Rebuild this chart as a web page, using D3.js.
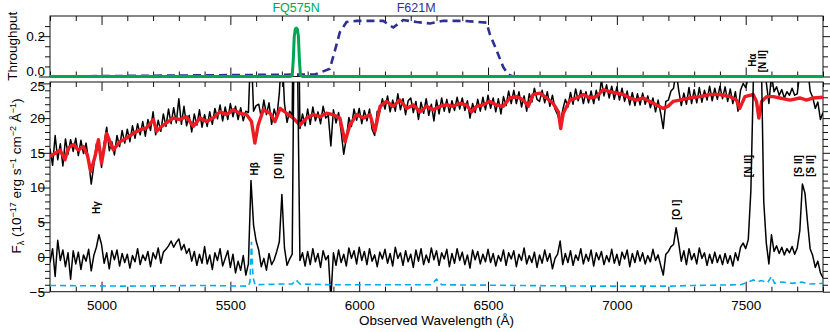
<!DOCTYPE html>
<html>
<head>
<meta charset="utf-8">
<script src="https://cdn.jsdelivr.net/npm/d3@7"></script>
<style>
body{margin:0;background:#fff;}
svg text{font-family:"Liberation Sans",Arial,Helvetica,sans-serif;}
</style>
</head>
<body>
<div id="chart"></div>
<script>
// spectra on a 10 A grid starting at 4800 A
const lamStart = 4800, lamStep = 10;

const observedFlux = [
  15.6, 13.2, 17.5, 14.0, 16.3, 13.1, 17.0, 14.8, 16.9, 15.2, // 4800
  17.1, 14.6, 16.8, 14.9, 16.4, 13.8, 10.5, 13.2, 16.3, 15.8, // 4900
  12.9, 16.4, 18.7, 15.3, 16.6, 14.7, 17.5, 15.9, 18.2, 16.4, // 5000
  18.4, 16.6, 18.9, 17.1, 19.2, 17.6, 19.5, 17.4, 19.8, 18.2, // 5100
  20.9, 17.6, 19.7, 18.1, 20.6, 18.8, 21.3, 19.2, 21.5, 19.3, // 5200
  22.8, 19.1, 21.7, 18.9, 20.4, 18.0, 20.6, 19.0, 21.2, 18.7, // 5300
  20.5, 18.8, 20.9, 19.1, 21.4, 19.9, 21.9, 19.6, 21.6, 19.8, // 5400
  22.1, 20.2, 21.7, 19.8, 21.5, 19.6, 21.0, 20.8, 31.0, 21.0, // 5500
  21.8, 22.0, 20.1, 22.6, 20.5, 22.2, 19.1, 21.3, 20.0, 23.6, // 5600
  30.0, 22.1, 19.4, 21.0, 20.4, 60.0, 50.0, 18.5, 20.6, 18.9, // 5700
  21.3, 19.1, 21.6, 19.6, 20.9, 19.2, 21.7, 20.0, 20.4, 16.0, // 5800
  21.2, 19.3, 20.8, 18.0, 14.8, 17.1, 20.1, 18.8, 21.3, 19.7, // 5900
  21.4, 19.2, 21.1, 19.6, 21.3, 18.4, 17.5, 21.0, 20.9, 22.8, // 6000
  21.3, 23.2, 20.9, 22.6, 21.0, 23.5, 21.2, 22.8, 20.5, 22.5, // 6100
  22.9, 20.8, 22.4, 19.8, 22.3, 20.7, 22.8, 20.4, 22.0, 19.6, // 6200
  22.6, 20.6, 22.9, 21.0, 22.7, 20.8, 22.5, 21.1, 23.0, 21.3, // 6300
  22.9, 21.1, 22.5, 20.0, 22.1, 20.8, 22.7, 21.0, 23.0, 21.2, // 6400
  23.3, 21.4, 22.9, 20.9, 22.8, 20.6, 23.1, 21.8, 23.9, 22.1, // 6500
  24.0, 22.1, 23.8, 21.6, 23.2, 21.0, 23.5, 22.3, 24.3, 22.7, // 6600
  22.4, 24.0, 22.2, 23.8, 21.7, 23.3, 21.3, 20.5, 19.2, 21.2, // 6700
  22.7, 21.6, 23.7, 22.0, 24.2, 22.5, 24.0, 22.1, 23.8, 22.2, // 6800
  23.9, 22.1, 24.0, 22.6, 25.5, 23.2, 24.8, 22.9, 24.6, 22.7, // 6900
  24.5, 22.6, 24.3, 22.4, 23.9, 21.9, 23.7, 21.8, 23.5, 21.9, // 7000
  23.6, 22.0, 23.2, 21.5, 22.9, 20.9, 22.6, 20.7, 18.5, 22.4, // 7100
  22.6, 23.9, 24.3, 26.8, 24.0, 21.8, 23.6, 22.0, 24.4, 22.1, // 7200
  24.1, 22.2, 24.4, 22.3, 24.0, 22.6, 24.6, 22.5, 24.3, 22.7, // 7300
  24.6, 22.8, 24.5, 22.4, 24.2, 22.1, 23.8, 21.0, 24.0, 25.0, // 7400
  24.4, 25.8, 33.0, 49.0, 62.0, 58.0, 52.0, 30.8, 25.1, 22.1, // 7500
  26.3, 23.8, 24.5, 23.3, 24.1, 22.9, 23.8, 23.3, 24.3, 23.3, // 7600
  23.5, 26.6, 33.0, 31.8, 27.6, 23.9, 23.0, 21.4, 22.3, 19.8, 20.8 // 7700
];

const residualFlux = [
  -0.8, 1.2, -2.8, 2.4, -0.5, 1.0, -1.4, 0.6, -3.2, 0.9,  // 4800
  -1.0, 0.7, -1.8, 0.3, -0.6, 1.1, -2.0, 0.2, 1.4, 3.2,   // 4900
  1.8, -0.9, 0.6, -1.7, 0.9, -0.4, 1.0, -1.3, 0.5, -0.8,  // 5000
  0.4, -1.6, 0.2, -0.7, 1.2, -1.1, 0.3, -0.5, 0.8, -1.4,  // 5100
  0.6, -0.3, 1.3, -0.9, 0.7, 1.1, 1.6, 2.3, 1.4, 2.1,     // 5200
  2.6, 1.0, 1.8, 0.5, 1.2, -0.6, 0.8, -1.2, 0.4, -0.9,    // 5300
  1.5, -1.0, 0.3, -1.8, 0.6, -0.5, 1.2, -1.3, -0.2, 0.9,  // 5400
  -1.5, 0.4, -2.3, -0.6, -1.9, 0.2, -2.6, -1.0, 11.0, 4.6, // 5500
  2.3, 1.0, -1.4, -0.2, -1.9, 0.5, -1.1, -0.4, 0.8, 2.2,  // 5600
  9.0, 1.3, -1.2, -0.3, 0.4, 45.0, 30.0, -0.5, 0.6, -1.3, // 5700
  0.8, -1.1, 1.2, -0.7, 0.5, -1.5, 0.9, -0.4, 0.2, -6.0,  // 5800
  0.6, -1.2, 1.0, -0.8, 0.4, -1.3, 1.3, -0.2, 0.9, -1.0,  // 5900
  1.4, -0.5, 0.8, -1.1, 1.2, -0.6, 0.3, -1.4, 0.7, -0.3,  // 6000
  1.1, -0.9, 0.5, -1.3, 1.4, -0.2, 0.6, -1.2, 0.9, -0.7,  // 6100
  0.4, -1.5, 1.0, -0.6, 1.2, -1.1, 0.3, -0.8, 1.3, -0.4,  // 6200
  0.9, -1.2, 0.6, -0.3, 1.1, -1.4, 0.5, -0.9, 1.2, -0.5,  // 6300
  0.7, -1.1, 0.3, -1.6, 1.0, -0.4, 0.8, -1.0, 0.4, -0.7,  // 6400
  1.1, -0.8, 0.5, -1.3, 0.2, -0.6, 1.0, -1.2, 0.6, -0.3,  // 6500
  0.9, -1.4, 0.4, -0.5, 1.3, -1.0, 0.2, -0.8, 0.7, -1.5,  // 6600
  0.3, -0.9, 1.0, -0.6, 0.5, -1.7, -0.2, 0.4, 2.3, -1.1,  // 6700
  0.5, -0.8, 0.9, -1.2, 0.3, -0.5, 1.2, -1.0, 0.4, -0.6,  // 6800
  1.0, -1.3, 0.6, -0.4, 0.8, -1.1, 0.2, -0.7, 1.1, -0.9,  // 6900
  0.4, -1.2, 0.7, -0.3, 1.0, -1.4, 0.5, -0.8, 0.9, -0.6,  // 7000
  0.6, -1.0, 0.2, -0.7, 1.1, -0.5, 0.3, -1.2, -2.6, 0.4,  // 7100
  0.8, 1.5, 1.8, 4.2, 2.0, -0.6, 0.9, -1.1, 1.2, -0.4,    // 7200
  0.5, -1.0, 1.3, -0.2, 0.6, -1.2, 0.4, -0.9, 0.7, -0.8,  // 7300
  0.3, -1.1, 0.5, -0.9, 0.2, -1.3, 0.6, -0.5, 1.4, 2.0,   // 7400
  1.2, 2.5, 9.5, 26.0, 40.0, 38.0, 30.0, 8.0, 2.0, -1.0,  // 7500
  3.2, 0.8, 1.6, 0.5, 1.4, 0.3, 1.2, 0.6, 1.5, 0.4,       // 7600
  1.3, 3.8, 10.5, 9.2, 5.0, 1.2, 0.2, -1.5, -0.6, -2.3, -3.0 // 7700
];

// stellar population fit (red)
const modelWave = [4800,4819,4839,4858,4871,4891,4910,4929,4945,4958,4975,4988,5000,5020,5046,5071,5097,5123,5149,5175,
  5201,5214,5240,5278,5304,5330,5356,5382,5408,5434,5459,5485,5511,5537,5563,5582,5595,5608,5628,5654,5673,5693,
  5718,5744,5770,5796,5822,5848,5873,5899,5925,5945,5964,5990,6016,6042,6061,6081,6106,6132,6158,6184,6210,6236,
  6262,6288,6313,6339,6365,6391,6417,6436,6455,6481,6507,6533,6559,6585,6611,6637,6656,6675,6701,6727,6753,6773,
  6782,6792,6818,6844,6870,6895,6921,6947,6973,6999,7025,7050,7076,7102,7128,7154,7180,7199,7218,7244,7283,7322,
  7361,7400,7438,7464,7477,7497,7529,7542,7551,7562,7581,7607,7633,7672,7710,7736,7762,7800];
const modelFlux = [14.5,14.9,15.4,14.0,15.7,16.2,15.4,15.9,14.7,12.3,14.5,16.9,13.5,17.8,15.4,16.6,17.1,17.8,18.3,18.6,
  19.8,18.1,19.0,20.0,19.8,20.2,18.8,20.0,19.5,20.0,20.9,20.5,21.2,20.7,20.5,19.5,16.4,19.0,21.2,20.7,19.5,21.4,
  20.7,20.0,19.0,20.0,20.5,20.2,20.7,20.5,20.0,16.6,19.0,20.5,20.0,20.5,18.1,21.7,22.4,21.7,22.6,21.4,21.9,20.9,
  21.7,21.2,21.7,21.9,21.7,22.1,21.9,20.9,21.7,21.9,22.4,21.9,21.7,22.9,23.1,22.6,21.7,23.4,23.6,22.9,22.1,20.9,
  18.5,20.7,22.6,22.9,23.4,22.9,23.1,24.1,23.8,23.6,23.4,22.9,22.6,22.9,22.4,21.9,21.4,21.7,22.4,22.6,22.9,23.1,
  23.4,23.4,23.1,22.6,21.4,23.1,23.4,22.4,20.0,22.4,23.1,23.1,22.9,22.6,22.9,22.6,22.9,23.0];

// error spectrum (cyan dashed)
const errorWave = [4800,5100,5400,5570,5576,5582,5588,5596,5700,5740,5755,5770,5900,6280,6300,6320,6900,7200,7300,
  7480,7510,7530,7545,7560,7585,7600,7612,7640,7680,7720,7740,7800];
const errorFlux = [-4.1,-4.2,-4.1,-4.2,-3.6,2.2,-3.0,-4.0,-3.9,-3.9,-3.3,-3.9,-4.0,-4.0,-3.2,-4.0,-4.2,-4.2,-4.1,
  -4.0,-3.6,-3.3,-3.6,-3.4,-3.7,-2.8,-3.8,-3.6,-3.8,-3.6,-3.9,-3.8];

// filter throughputs
const fq575nWave = [4800,5730,5740,5744,5748,5752,5756,5760,5764,5768,5772,5780,7800];
const fq575nThru = [0,0,0.005,0.08,0.2,0.235,0.24,0.235,0.2,0.08,0.005,0,0];
const f621mWave = [4800,5828,5886,5906,5925,5951,5990,6042,6093,6132,6171,6223,6275,6326,6404,6494,6507,6533,6559,6578,6597,7800];
const f621mThru = [0,0.01,0.038,0.13,0.22,0.27,0.276,0.276,0.276,0.243,0.28,0.27,0.263,0.276,0.276,0.267,0.21,0.13,0.047,0.01,0,0];

const xMajor = [5000,5500,6000,6500,7000,7500];
const yMajor = [-5,0,5,10,15,20,25];
const thruMajor = [0,0.2];

// emission line labels: text, wavelength, flux level
const lineText = ["H\u03b3","H\u03b2","[O III]","[O I]","[N II]","[S II]","[S II]"];
const lineWave = [4982,5595,5685,7233,7512,7703,7753];
const lineLevel = [7.1,12.7,13.1,6.8,13.1,13.1,13.1];
const topText = ["H\u03b1","[N II]"];
const topWave = [7528,7567];
const topLevel = [0.081,0.076];

const W = 830, H = 332;
const left = 50, right = 823;
const topY0 = 16, topY1 = 76.5, botY0 = 82, botY1 = 291.7;
const font = 13.5;

const svg = d3.select("#chart").append("svg").attr("width", W).attr("height", H);

const x = d3.scaleLinear().domain([4800, 7800]).range([left, right]);
const yThru = d3.scaleLinear().domain([0, 0.3]).range([topY1, topY0]);
const yFlux = d3.scaleLinear().domain([-5, 25.2]).range([botY1, botY0]);

const xMinor = d3.range(4800, 7801, 100).filter(v => !xMajor.includes(v));
const yMinor = d3.range(-5, 26, 1).filter(v => !yMajor.includes(v));
const thruMinor = [0.05, 0.1, 0.15, 0.25];

const stripAxis = sel => { sel.select(".domain").remove(); sel.selectAll("line").attr("stroke", "#111"); };

const addAxis = (axis, tx, ty) => svg.append("g")
  .attr("transform", `translate(${tx},${ty})`)
  .call(axis).call(stripAxis)
  .attr("font-family", null).attr("font-size", font);

const frameTicks = (yScale, y0, y1, major, minor, fmt) => {
  addAxis(d3.axisTop(x).tickValues(xMajor).tickSize(-9).tickFormat(""), 0, y0);
  addAxis(d3.axisTop(x).tickValues(xMinor).tickSize(-5).tickFormat(""), 0, y0);
  addAxis(d3.axisBottom(x).tickValues(xMinor).tickSize(-5).tickFormat(""), 0, y1);
  addAxis(d3.axisRight(yScale).tickValues(major).tickSize(-11).tickFormat(""), left, 0);
  addAxis(d3.axisRight(yScale).tickValues(minor).tickSize(-5).tickFormat(""), left, 0);
  addAxis(d3.axisLeft(yScale).tickValues(major).tickSize(-11).tickFormat(""), right, 0);
  addAxis(d3.axisLeft(yScale).tickValues(minor).tickSize(-5).tickFormat(""), right, 0);
  const lab = addAxis(d3.axisLeft(yScale).tickValues(major).tickSize(0).tickPadding(5).tickFormat(fmt), left, 0);
  lab.selectAll("text").attr("fill", "#000");
  svg.append("rect").attr("x", left).attr("y", y0).attr("width", right - left).attr("height", y1 - y0)
    .attr("fill", "none").attr("stroke", "#111").attr("stroke-width", 1);
  return lab;
};

// ---- top panel: throughput
const topLab = frameTicks(yThru, topY0, topY1, thruMajor, thruMinor, d3.format(".1f"));
topLab.selectAll("text").filter(d => d === 0).attr("dy", "-0.05em");
addAxis(d3.axisBottom(x).tickValues(xMajor).tickSize(-9).tickFormat(""), 0, topY1);

const thruLine = d3.line().x(d => x(d[0])).y(d => yThru(d[1]));

svg.append("path")
  .attr("d", thruLine(f621mWave.map((w, i) => [w, f621mThru[i]])))
  .attr("fill", "none").attr("stroke", "#2e3192").attr("stroke-width", 2.6)
  .attr("stroke-dasharray", "8,5");
svg.append("path")
  .attr("d", thruLine(fq575nWave.map((w, i) => [w, fq575nThru[i]])))
  .attr("fill", "none").attr("stroke", "#00a651").attr("stroke-width", 3).attr("stroke-linejoin", "round");

svg.append("text").attr("x", x(5755)).attr("y", 12).attr("text-anchor", "middle")
  .attr("font-size", 12.5).attr("fill", "#00a651").text("FQ575N");
svg.append("text").attr("x", x(6221)).attr("y", 12).attr("text-anchor", "middle")
  .attr("font-size", 12.5).attr("fill", "#2e3192").text("F621M");

topText.forEach((t, i) => {
  svg.append("text")
    .attr("transform", `translate(${x(topWave[i])},${yThru(topLevel[i])}) rotate(-90)`)
    .attr("text-anchor", "middle").attr("dominant-baseline", "central")
    .attr("font-size", 10).attr("font-weight", "bold").text(t);
});

svg.append("text")
  .attr("transform", `translate(17,${(topY0 + topY1) / 2}) rotate(-90)`)
  .attr("text-anchor", "middle").attr("font-size", font).text("Throughput");

// ---- bottom panel: spectra
const botLab = frameTicks(yFlux, botY0, botY1, yMajor, yMinor, d3.format("d"));
botLab.selectAll("text").filter(d => d === 25).attr("dy", "0.55em");
botLab.selectAll("text").text(d => d < 0 ? "\u2212" + Math.abs(d) : d);

const xAx = addAxis(d3.axisBottom(x).tickValues(xMajor).tickSize(-10).tickPadding(8.5).tickFormat(d3.format("d")), 0, botY1);
xAx.selectAll("text").attr("fill", "#000");

svg.append("defs").append("clipPath").attr("id", "clipBot")
  .append("rect").attr("x", left).attr("y", botY0).attr("width", right - left).attr("height", botY1 - botY0);

const plot = svg.append("g").attr("clip-path", "url(#clipBot)");
const fluxLine = d3.line().x(d => x(d[0])).y(d => yFlux(d[1]));
const onGrid = arr => arr.map((f, i) => [lamStart + i * lamStep, f]);

plot.append("path").attr("d", fluxLine(onGrid(observedFlux)))
  .attr("fill", "none").attr("stroke", "#000").attr("stroke-width", 1.5).attr("stroke-linejoin", "round");
plot.append("path").attr("d", fluxLine(modelWave.map((w, i) => [w, modelFlux[i]])))
  .attr("fill", "none").attr("stroke", "#ed1c24").attr("stroke-width", 3.4).attr("stroke-linejoin", "round");
plot.append("path").attr("d", fluxLine(onGrid(residualFlux)))
  .attr("fill", "none").attr("stroke", "#000").attr("stroke-width", 1.5).attr("stroke-linejoin", "round");
plot.append("path").attr("d", fluxLine(errorWave.map((w, i) => [w, errorFlux[i]])))
  .attr("fill", "none").attr("stroke", "#00aeef").attr("stroke-width", 1.6).attr("stroke-dasharray", "6,4");

lineText.forEach((t, i) => {
  svg.append("text")
    .attr("transform", `translate(${x(lineWave[i])},${yFlux(lineLevel[i])}) rotate(-90)`)
    .attr("text-anchor", "middle").attr("dominant-baseline", "central")
    .attr("font-size", 10).attr("font-weight", "bold").text(t);
});

svg.append("text").attr("x", (left + right) / 2).attr("y", 325).attr("text-anchor", "middle")
  .attr("font-size", font).text("Observed Wavelength (\u00c5)");

// y label with sub/superscripts
const yl = svg.append("text")
  .attr("transform", `translate(21,176) rotate(-90)`)
  .attr("text-anchor", "middle").attr("font-size", font);
const parts = [["F", 0], ["\u03bb", 1], [" (10", 0], ["\u221217", -1], [" erg s", 0], ["\u22121", -1],
  [" cm", 0], ["\u22122", -1], [" \u00c5", 0], ["\u22121", -1], [")", 0]];
let shift = 0;
parts.forEach(([s, k]) => {
  const target = k === 1 ? 3 : k === -1 ? -5 : 0;
  yl.append("tspan").attr("dy", target - shift).attr("font-size", k === 0 ? font : 9).text(s);
  shift = target;
});
</script>
</body>
</html>
